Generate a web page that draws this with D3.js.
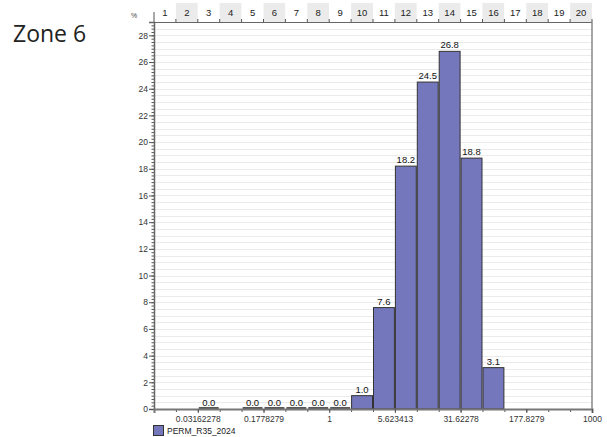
<!DOCTYPE html>
<meta charset="utf-8">
<style>
body {
  margin: 0;
  background: #fff;
}
svg text {
  font-family: "Liberation Sans", Arial, sans-serif;
}
.title {
  font-family: "Open Sans", sans-serif !important;
  font-size: 23px;
  fill: #222;
}
.bar {
  fill: #7477bb;
  stroke: #333;
  stroke-width: 1;
}
.grid line {
  stroke: #ebebeb;
  shape-rendering: crispEdges;
}
.axis text {
  font-size: 8.5px;
  fill: #333;
}
</style>
<body>
<svg width="607" height="437"></svg>
<script src="https://d3js.org/d3.v7.min.js"></script>
<script>
// bins shown in the header strip
var binLabels = ["1", "2", "3", "4", "5", "6", "7", "8", "9", "10",
                 "11", "12", "13", "14", "15", "16", "17", "18", "19", "20"];
// percentage per bin (null = no data)
var binValues = [null, null, 0.0, null, 0.0, 0.0, 0.0, 0.0, 0.0, 1.0,
                 7.6, 18.2, 24.5, 26.8, 18.8, 3.1, null, null, null, null];
// bin edges on the permeability axis (quarter decades)
var binEdges = [0.01, 0.01778279, 0.03162278, 0.05623413, 0.1, 0.1778279, 0.3162278, 0.5623413,
                1, 1.778279, 3.162278, 5.623413, 10, 17.78279, 31.62278, 56.23413,
                100, 177.8279, 316.2278, 562.3413, 1000];
var xTickValues = [0.03162278, 0.1778279, 1, 5.623413, 31.62278, 177.8279, 1000];
var xTickLabels = ["0.03162278", "0.1778279", "1", "5.623413", "31.62278", "177.8279", "1000"];
var yTickValues = [0, 2, 4, 6, 8, 10, 12, 14, 16, 18, 20, 22, 24, 26, 28];
var seriesName = "PERM_R35_2024";

var svg = d3.select("svg");
var plotLeft = 154, plotRight = 592, plotTop = 22, plotBottom = 409;

var x = d3.scaleLog().domain([0.01, 1000]).range([plotLeft, plotRight]);
var y = d3.scaleLinear().domain([0, 29]).range([plotBottom, plotTop]);

var bins = binValues.map(function(v, i) {
  return {label: binLabels[i], value: v, x0: binEdges[i], x1: binEdges[i + 1], idx: i};
});

// title
svg.append("text")
    .attr("class", "title")
    .attr("x", 13)
    .attr("y", 42)
    .text("Zone 6");

svg.append("text")
    .attr("x", 131)
    .attr("y", 18)
    .style("font-size", "7px")
    .style("fill", "#444")
    .text("%");

// header strip with bin numbers
var head = svg.append("g");
head.selectAll("rect")
  .data(bins)
  .enter().append("rect")
    .attr("x", function(d) { return x(d.x0); })
    .attr("y", 3)
    .attr("width", function(d) { return x(d.x1) - x(d.x0); })
    .attr("height", plotTop - 3)
    .attr("fill", function(d) { return d.idx % 2 ? "#ebebeb" : "#fff"; });
head.selectAll("text")
  .data(bins)
  .enter().append("text")
    .attr("x", function(d) { return (x(d.x0) + x(d.x1)) / 2; })
    .attr("y", 16)
    .attr("text-anchor", "middle")
    .style("font-size", "9.5px")
    .style("fill", "#222")
    .text(function(d) { return d.label; });
head.selectAll("line.htick")
  .data(binEdges)
  .enter().append("line")
    .attr("class", "htick")
    .attr("x1", function(d) { return x(d); })
    .attr("x2", function(d) { return x(d); })
    .attr("y1", function(d, i) { return i == 0 ? 12 : 19; })
    .attr("y2", plotTop)
    .attr("stroke", "#555");
head.append("line")
    .attr("x1", plotLeft).attr("x2", plotRight)
    .attr("y1", plotTop + 0.5).attr("y2", plotTop + 0.5)
    .attr("stroke", "#666");

// gridlines
svg.append("g")
    .attr("class", "grid")
  .selectAll("line")
  .data(d3.range(0.5, 29, 0.5))
  .enter().append("line")
    .attr("x1", plotLeft + 1).attr("x2", plotRight)
    .attr("y1", function(d) { return Math.round(y(d)) + 0.5; })
    .attr("y2", function(d) { return Math.round(y(d)) + 0.5; });

// y axis: minor ticks then labelled ticks
svg.append("g")
    .attr("transform", "translate(" + plotLeft + ",0)")
    .call(d3.axisLeft(y).tickValues(d3.range(0, 29.01, 0.25)).tickSize(2.5).tickFormat(""))
    .call(function(g) { g.select(".domain").remove(); g.selectAll("line").attr("stroke", "#555"); });
svg.append("g")
    .attr("class", "axis")
    .attr("transform", "translate(" + plotLeft + ",0)")
    .call(d3.axisLeft(y).tickValues(yTickValues).tickSize(5).tickPadding(1))
    .call(function(g) {
      g.select(".domain").attr("stroke", "#666").attr("stroke-width", 1.5);
      g.selectAll(".tick line").attr("stroke", "#555");
    });

// bars
svg.selectAll(".bar")
  .data(bins.filter(function(d) { return d.value > 0; }))
  .enter().append("rect")
    .attr("class", "bar")
    .attr("x", function(d) { return x(d.x0) + 0.5; })
    .attr("y", function(d) { return y(d.value); })
    .attr("width", function(d) { return x(d.x1) - x(d.x0) - 1; })
    .attr("height", function(d) { return plotBottom - y(d.value); });

// zero bars drawn as a line on the baseline
svg.selectAll(".zero")
  .data(bins.filter(function(d) { return d.value === 0; }))
  .enter().append("line")
    .attr("class", "zero")
    .attr("x1", function(d) { return x(d.x0) + 1; })
    .attr("x2", function(d) { return x(d.x1) - 1; })
    .attr("y1", plotBottom - 1).attr("y2", plotBottom - 1)
    .attr("stroke", "#222")
    .attr("stroke-width", 1.5);

// value labels
svg.selectAll(".lbl")
  .data(bins.filter(function(d) { return d.value !== null; }))
  .enter().append("text")
    .attr("class", "lbl")
    .attr("x", function(d) { return (x(d.x0) + x(d.x1)) / 2; })
    .attr("y", function(d) { return y(d.value) - 3; })
    .attr("text-anchor", "middle")
    .style("font-size", "9.5px")
    .style("fill", "#111")
    .text(function(d) { return d.value.toFixed(1); });

// x axis
svg.append("g")
    .attr("transform", "translate(0," + plotBottom + ")")
    .call(d3.axisBottom(x).tickValues(binEdges).tickSize(3).tickFormat(""))
    .call(function(g) { g.select(".domain").remove(); g.selectAll("line").attr("stroke", "#555"); });
svg.append("g")
    .attr("class", "axis")
    .attr("transform", "translate(0," + plotBottom + ")")
    .call(d3.axisBottom(x).tickValues(xTickValues).tickSize(4).tickPadding(3)
      .tickFormat(function(d, i) { return xTickLabels[i]; }))
    .call(function(g) {
      g.select(".domain").attr("stroke", "#777").attr("stroke-width", 2);
      g.selectAll(".tick line").attr("stroke", "#555");
    });

// right border
svg.append("line")
    .attr("x1", plotRight).attr("x2", plotRight)
    .attr("y1", plotTop).attr("y2", plotBottom)
    .attr("stroke", "#888")
    .attr("stroke-width", 1.5);

// legend
svg.append("rect")
    .attr("x", 153.5).attr("y", 425.5)
    .attr("width", 10).attr("height", 10)
    .attr("fill", "#7477bb")
    .attr("stroke", "#333");
svg.append("text")
    .attr("x", 167)
    .attr("y", 434)
    .style("font-size", "8.5px")
    .style("fill", "#222")
    .text(seriesName);
</script>
</body>
